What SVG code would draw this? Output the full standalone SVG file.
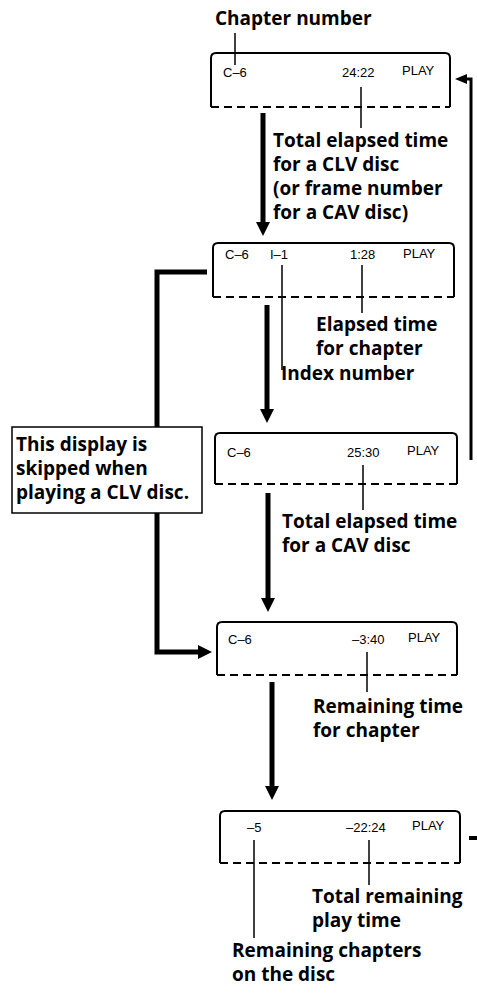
<svg xmlns="http://www.w3.org/2000/svg" width="477" height="993" viewBox="0 0 477 993">
<style>
.box{fill:none;stroke:#000;stroke-width:2}
.dash{fill:none;stroke:#000;stroke-width:2;stroke-dasharray:8 5}
.lcd{font-family:"Liberation Sans",Arial,sans-serif;font-size:13px;fill:#000}
.lbl{font-family:"Open Sans","Liberation Sans",sans-serif;font-weight:700;font-size:19px;fill:#000}
.lead{stroke:#000;stroke-width:1.5;fill:none}
.thick{stroke:#000;stroke-width:5;fill:none}
</style>
<defs>
<marker id="ah" markerUnits="userSpaceOnUse" markerWidth="14" markerHeight="14" refX="0" refY="7" orient="auto">
<path d="M0,0 L14,7 L0,14 z" fill="#000"/>
</marker>
<marker id="ahs" markerUnits="userSpaceOnUse" markerWidth="12" markerHeight="10" refX="0" refY="5" orient="auto">
<path d="M0,0 L12,5 L0,10 z" fill="#000"/>
</marker>
</defs>
<rect width="477" height="993" fill="#fff"/>

<g id="connectors">
<path class="lead" d="M235,33 V65"/>
<path class="lead" d="M361,87 V128"/>
<path class="lead" d="M282,265 V370"/>
<path class="lead" d="M362,265 V313"/>
<path class="lead" d="M363,465 V510"/>
<path class="lead" d="M367,652 V692"/>
<path class="lead" d="M254,840 V938"/>
<path class="lead" d="M369,840 V885"/>
<path class="thick" d="M263,113 V222" marker-end="url(#ah)"/>
<path class="thick" d="M267,305 V409" marker-end="url(#ah)"/>
<path class="thick" d="M268,493 V598" marker-end="url(#ah)"/>
<path class="thick" d="M272,682 V786" marker-end="url(#ah)"/>
<path class="thick" d="M207,272 H157 V652 H198" marker-end="url(#ah)"/>
<path stroke="#000" stroke-width="3" fill="none" d="M471,460 V79 H467" marker-end="url(#ahs)"/>
<path stroke="#000" stroke-width="4" d="M469,838 H477"/>
</g>

<g id="display1">
<path class="box" d="M211,107 V58 Q211,53 216,53 H445 Q450,53 450,58 V107"/>
<path class="dash" d="M211,107 H450"/>
<text class="lcd" x="223" y="77">C–6</text>
<text class="lcd" x="342" y="77">24:22</text>
<text class="lcd" x="402" y="75">PLAY</text>
</g>

<g id="display2">
<path class="box" d="M213,297 V248 Q213,243 218,243 H449 Q454,243 454,248 V297"/>
<path class="dash" d="M213,297 H454"/>
<text class="lcd" x="225" y="259">C–6</text>
<text class="lcd" x="270" y="259">I–1</text>
<text class="lcd" x="350" y="259">1:28</text>
<text class="lcd" x="403" y="258">PLAY</text>
</g>

<g id="display3">
<path class="box" d="M215,484 V438 Q215,433 220,433 H452 Q457,433 457,438 V484"/>
<path class="dash" d="M215,484 H457"/>
<text class="lcd" x="227" y="457">C–6</text>
<text class="lcd" x="347" y="457">25:30</text>
<text class="lcd" x="407" y="455">PLAY</text>
</g>

<g id="display4">
<path class="box" d="M217,675 V627 Q217,622 222,622 H452 Q457,622 457,627 V675"/>
<path class="dash" d="M217,675 H457"/>
<text class="lcd" x="228" y="644">C–6</text>
<text class="lcd" x="352" y="644">–3:40</text>
<text class="lcd" x="408" y="642">PLAY</text>
</g>

<g id="display5">
<path class="box" d="M220,863 V816 Q220,811 225,811 H455 Q460,811 460,816 V863"/>
<path class="dash" d="M220,863 H460"/>
<text class="lcd" x="247" y="832">–5</text>
<text class="lcd" x="346" y="832">–22:24</text>
<text class="lcd" x="412" y="830">PLAY</text>
</g>

<g id="callout">
<rect x="12" y="427" width="190" height="86" fill="#fff" stroke="#000" stroke-width="1.5"/>
<text class="lbl" x="16" y="451">This display is</text>
<text class="lbl" x="16" y="475">skipped when</text>
<text class="lbl" x="16" y="499">playing a CLV disc.</text>
</g>

<g id="labels">
<text class="lbl" x="215" y="25">Chapter number</text>
<text class="lbl" x="273" y="147">Total elapsed time</text>
<text class="lbl" x="273" y="171">for a CLV disc</text>
<text class="lbl" x="273" y="195">(or frame number</text>
<text class="lbl" x="273" y="219">for a CAV disc)</text>
<text class="lbl" x="316" y="331">Elapsed time</text>
<text class="lbl" x="316" y="355">for chapter</text>
<text class="lbl" x="281" y="380">Index number</text>
<text class="lbl" x="282" y="528">Total elapsed time</text>
<text class="lbl" x="282" y="552">for a CAV disc</text>
<text class="lbl" x="313" y="713">Remaining time</text>
<text class="lbl" x="313" y="737">for chapter</text>
<text class="lbl" x="312" y="903">Total remaining</text>
<text class="lbl" x="312" y="927">play time</text>
<text class="lbl" x="232" y="957">Remaining chapters</text>
<text class="lbl" x="232" y="981">on the disc</text>
</g>
</svg>
